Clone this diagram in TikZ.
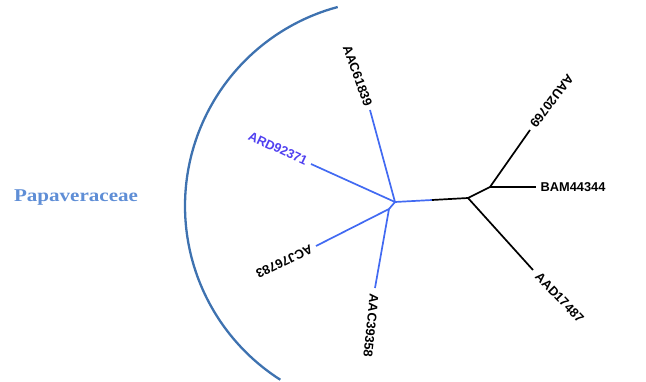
\documentclass[tikz,border=0pt]{standalone}
\usepackage{fontspec}
\setmainfont{Liberation Serif}
\setsansfont{Liberation Sans}
\definecolor{treeblue}{RGB}{66,106,242}
\definecolor{ardblue}{RGB}{80,64,240}
\definecolor{arcblue}{RGB}{62,114,176}
\definecolor{famblue}{RGB}{95,142,214}
\begin{document}
\begin{tikzpicture}[x=1pt,y=-1pt,
  bl/.style={draw=treeblue,line width=1.7pt},
  bk/.style={draw=black,line width=1.7pt},
  lab/.style={font=\sffamily\bfseries\fontsize{12.8}{14}\selectfont,inner sep=4.5pt}]
\useasboundingbox (0,0) rectangle (646,382);
% arc
\draw[arcblue,line width=2.3pt,domain=122.5:255,samples=100,smooth]
  plot ({391+206*cos(\x)},{206+206*sin(\x)});
\node[font=\rmfamily\bfseries\fontsize{18}{20}\selectfont,text=famblue,xscale=1.17,transform shape] (fam) at (76,198) {Papaveraceae};
% internal nodes
\coordinate (n0) at (395,202);
\coordinate (n1) at (389,209);
\coordinate (m) at (432,200);
\coordinate (n2) at (468,198);
\coordinate (n3) at (490,187);
% leaves
\coordinate (l1) at (370,110);
\coordinate (l2) at (311,164);
\coordinate (l3) at (316,246);
\coordinate (l4) at (375,288);
\coordinate (l5) at (530,130);
\coordinate (l6) at (536,187);
\coordinate (l7) at (533,270);
% edges
\draw[bl] (n0) -- (l1);
\draw[bl] (n0) -- (l2);
\draw[bl] (n0) -- (n1);
\draw[bl] (n1) -- (l3);
\draw[bl] (n1) -- (l4);
\draw[bl] (n0) -- (m);
\draw[bk] (m) -- (n2);
\draw[bk] (n2) -- (n3);
\draw[bk] (n3) -- (l5);
\draw[bk] (n3) -- (l6);
\draw[bk] (n2) -- (l7);
% labels
\node[lab,anchor=east,rotate=-70] (t1) at (l1) {AAC61839};
\node[lab,anchor=east,rotate=-25,text=ardblue] (t2) at (l2) {ARD92371};
\node[lab,anchor=west,rotate=206] (t3) at (l3) {ACJ76783};
\node[lab,anchor=west,rotate=-96,inner sep=6pt] (t4) at (l4) {AAC39358};
\node[lab,anchor=east,rotate=233] (t5) at (l5) {AAU20769};
\node[lab,anchor=west] (t6) at (l6) {BAM44344};
\node[lab,anchor=west,rotate=-46,inner sep=6.5pt] (t7) at (l7) {AAD17487};
\end{tikzpicture}
\end{document}
